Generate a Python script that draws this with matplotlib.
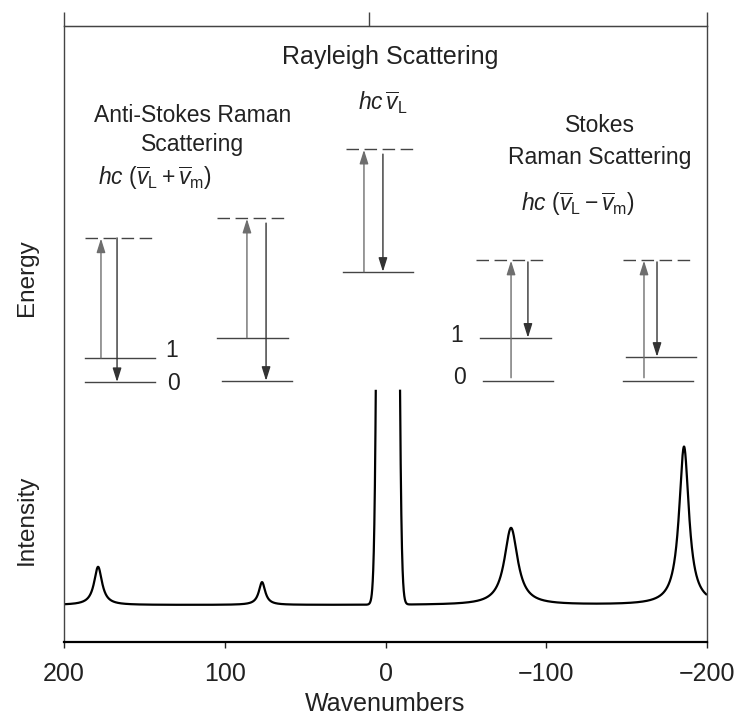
import numpy as np
import matplotlib
matplotlib.use('Agg')
import matplotlib.pyplot as plt

plt.rcParams['font.family'] = ['Liberation Sans', 'DejaVu Sans']
plt.rcParams['mathtext.fontset'] = 'custom'
plt.rcParams['mathtext.rm'] = 'Liberation Sans'
plt.rcParams['mathtext.it'] = 'Liberation Sans:italic'
plt.rcParams['mathtext.bf'] = 'Liberation Sans:bold'

# spectrum peaks (wavenumber, height above baseline, half width)
peak_pos = [178.8, 76.8, -1.5, -78.1, -185.7]
peak_height = [6.2, 3.7, 1740.0, 12.5, 25.7]
peak_width = [3.0, 2.4, 2.7, 5.0, 3.7]
peak_kind = ['lorentz', 'lorentz', 'gauss', 'lorentz', 'lorentz']
baseline = 6.0
rayleigh_cut = 41.0

x_ticks = [200, 100, 0, -100, -200]
x_ticklabels = ['200', '100', '0', '\u2212100', '\u2212200']
top_ticks = [200, 10, -200]

wn = np.linspace(200, -200, 8001)
intensity = np.full_like(wn, baseline)
for c, h, w, k in zip(peak_pos, peak_height, peak_width, peak_kind):
    if k == 'gauss':
        intensity += h * np.exp(-(wn - c) ** 2 / (2 * w ** 2))
    else:
        intensity += h * w ** 2 / ((wn - c) ** 2 + w ** 2)
intensity[intensity > rayleigh_cut] = np.nan

fig = plt.figure(figsize=(7.35, 7.19), dpi=100)
ax = fig.add_axes([64 / 735, 77 / 719, 643 / 735, 616 / 719])

ax.plot(wn, intensity, color='black', lw=1.6, solid_capstyle='butt')

ax.set_xlim(200, -200)
ax.set_ylim(0, 100)
ax.set_xticks(x_ticks)
ax.set_xticklabels(x_ticklabels)
ax.set_yticks([])
ax.tick_params(axis='x', direction='out', length=4.5, width=1, labelsize=18,
               pad=10, colors='#222222')
ax.set_xlabel('Wavenumbers', fontsize=18, color='#222222', labelpad=4)
for s in ['left', 'right', 'top']:
    ax.spines[s].set_color('#444444')
    ax.spines[s].set_linewidth(1.0)
ax.spines['bottom'].set_linewidth(1.6)
ax.spines['bottom'].set_color('black')

sec = ax.secondary_xaxis('top')
sec.set_xticks(top_ticks)
sec.set_xticklabels([])
sec.tick_params(direction='out', length=10, width=1, colors='#444444')
sec.spines['top'].set_color('#444444')

fig.text(27 / 735, 1 - 278 / 719, 'Energy', rotation=90, fontsize=17.5,
         color='#222222', ha='center', va='center')
fig.text(27 / 735, 1 - 520 / 719, 'Intensity', rotation=90, fontsize=17.5,
         color='#222222', ha='center', va='center')

# energy level diagrams: (x0, x1, y) solid levels, dashed virtual level, arrows
lvl_c = '#444444'
dash = (0, (9, 4))


def level(x0, x1, y, dashed=False):
    ax.plot([x0, x1], [y, y], color=lvl_c, lw=1.0,
            linestyle=dash if dashed else '-')


def arrow(x, y0, y1, color):
    ax.annotate('', xy=(x, y1), xytext=(x, y0),
                arrowprops=dict(arrowstyle='-|>,head_length=0.7,head_width=0.22',
                                color=color, lw=1.0, shrinkA=0, shrinkB=0,
                                mutation_scale=12))


up_c = '#6e6e6e'
dn_c = '#333333'

# anti-Stokes (1 -> 0)
level(186.9, 143.4, 65.6, dashed=True)
level(186.9, 143.4, 46.1)
level(186.9, 143.4, 42.2)
arrow(177.0, 46.1, 65.5, up_c)
arrow(167.0, 65.6, 42.2, dn_c)

level(104.8, 60.7, 68.8, dashed=True)
level(104.8, 60.7, 49.4)
level(101.7, 58.2, 42.4)
arrow(86.2, 49.4, 68.7, up_c)
arrow(74.3, 68.0, 42.4, dn_c)

# Rayleigh
level(24.6, -19.6, 80.0, dashed=True)
level(26.4, -17.1, 60.1)
arrow(13.4, 60.1, 79.9, up_c)
arrow(1.6, 79.2, 60.1, dn_c)

# Stokes (0 -> 1)
level(-56.3, -100.5, 62.0, dashed=True)
level(-58.8, -103.0, 49.4)
level(-60.7, -104.2, 42.4)
arrow(-78.1, 42.9, 61.9, up_c)
arrow(-88.6, 61.7, 49.4, dn_c)

level(-147.7, -191.3, 62.0, dashed=True)
level(-149.6, -193.2, 46.3)
level(-147.7, -191.3, 42.4)
arrow(-160.8, 42.9, 61.9, up_c)
arrow(-168.9, 61.7, 46.3, dn_c)

txt = dict(color='#222222', ha='center', va='center')
ax.text(132.8, 47.4, '1', fontsize=16.5, **txt)
ax.text(131.6, 42.0, '0', fontsize=16.5, **txt)
ax.text(-44.5, 49.8, '1', fontsize=16.5, **txt)
ax.text(-46.3, 42.9, '0', fontsize=16.5, **txt)

ax.text(-2.8, 95.0, 'Rayleigh Scattering', fontsize=18, **txt)
ax.text(1.6, 87.5, r'$hc\,\overline{v}_{\mathrm{L}}$', fontsize=16.5, **txt)
ax.text(119.8, 85.4, 'Anti-Stokes Raman', fontsize=16.5, **txt)
ax.text(119.8, 80.8, 'Scattering', fontsize=16.5, **txt)
ax.text(143.4, 75.3,
        r'$hc\ (\overline{v}_{\mathrm{L}} + \overline{v}_{\mathrm{m}})$',
        fontsize=16.5, **txt)
ax.text(-133.4, 83.9, 'Stokes', fontsize=16.5, **txt)
ax.text(-133.4, 78.7, 'Raman Scattering', fontsize=16.5, **txt)
ax.text(-119.7, 71.1,
        r'$hc\ (\overline{v}_{\mathrm{L}} - \overline{v}_{\mathrm{m}})$',
        fontsize=16.5, **txt)

fig.savefig('out.png', dpi=100)
